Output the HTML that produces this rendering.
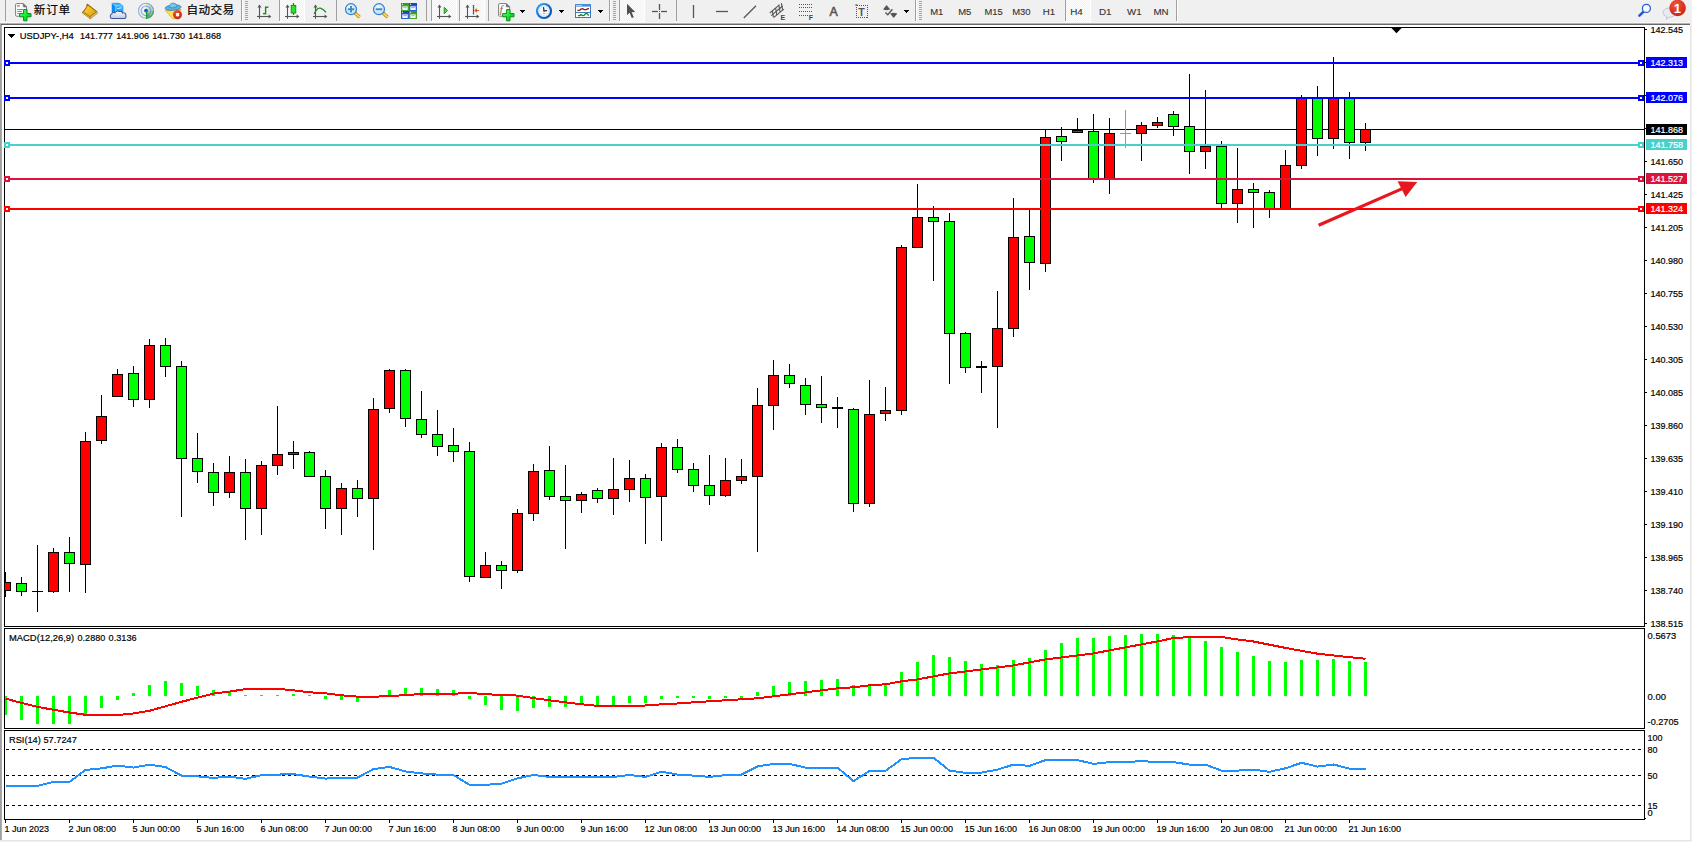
<!DOCTYPE html>
<html lang="zh"><head><meta charset="utf-8"><title>USDJPY-,H4</title>
<style>html,body{margin:0;padding:0;background:#fff;overflow:hidden}svg{display:block}text{font-family:"Liberation Sans","Noto Sans CJK SC",sans-serif;}.t{font-size:9.9px;fill:#000;stroke:#000;stroke-width:0.2px}.w{font-size:9.9px;fill:#fff;stroke:#fff;stroke-width:0.2px}.cj{font-size:11.6px;fill:#000;stroke:#000;stroke-width:0.2px}.tf{font-size:9.7px;fill:#333;stroke:#333;stroke-width:0.12px}</style></head><body>
<svg width="1692" height="842" viewBox="0 0 1692 842">
<g shape-rendering="crispEdges">
<rect x="0" y="0" width="1692" height="842" fill="#ffffff"/>
<rect x="0" y="0" width="1692" height="22" fill="#f0f0f0"/>
<rect x="0" y="22" width="1692" height="1" fill="#f7f7f7"/>
<rect x="0" y="23" width="1690" height="1" fill="#b4b4b4"/>
<rect x="0" y="24" width="1690" height="1" fill="#696969"/>
<rect x="1690" y="22" width="2" height="820" fill="#f0f0f0"/>
<rect x="1690" y="25" width="1" height="816" fill="#e3e3e3"/>
<rect x="0" y="840" width="1691" height="1" fill="#e3e3e3"/>
<rect x="0" y="841" width="1692" height="1" fill="#f0f0f0"/>
<rect x="0" y="24" width="1" height="816" fill="#a0a0a0"/>
<rect x="1" y="25" width="1" height="815" fill="#ababab"/>
<rect x="4" y="27" width="1641" height="1" fill="#000"/>
<rect x="4" y="27" width="1" height="793" fill="#000"/>
<rect x="1644" y="27" width="1" height="793" fill="#000"/>
<rect x="4" y="626" width="1641" height="1" fill="#000"/>
<rect x="4" y="628" width="1641" height="1" fill="#000"/>
<rect x="4" y="627" width="1" height="1" fill="#fff"/>
<rect x="1644" y="627" width="1" height="1" fill="#fff"/>
<rect x="4" y="728" width="1641" height="1" fill="#000"/>
<rect x="4" y="729" width="1" height="1" fill="#fff"/>
<rect x="1644" y="729" width="1" height="1" fill="#fff"/>
<rect x="4" y="730" width="1641" height="1" fill="#000"/>
<rect x="4" y="819" width="1641" height="1" fill="#000"/>
<rect x="1645" y="818" width="1" height="1" fill="#000"/>
</g>
<defs><clipPath id="cm"><rect x="5" y="28" width="1639" height="598"/></clipPath><clipPath id="ci"><rect x="5" y="629" width="1639" height="99"/></clipPath><clipPath id="cr"><rect x="5" y="731" width="1639" height="88"/></clipPath></defs>
<g shape-rendering="crispEdges" clip-path="url(#cm)">
<rect x="5" y="129" width="1639" height="1" fill="#000"/>
<rect x="5" y="572" width="1" height="25" fill="#000"/>
<rect x="0" y="582" width="11" height="9" fill="#000"/>
<rect x="1" y="583" width="9" height="7" fill="#ff0000"/>
<rect x="21" y="577" width="1" height="19" fill="#000"/>
<rect x="16" y="583" width="11" height="9" fill="#000"/>
<rect x="17" y="584" width="9" height="7" fill="#00ff00"/>
<rect x="37" y="545" width="1" height="67" fill="#000"/>
<rect x="32" y="591" width="11" height="1" fill="#000"/>
<rect x="53" y="548" width="1" height="45" fill="#000"/>
<rect x="48" y="552" width="11" height="40" fill="#000"/>
<rect x="49" y="553" width="9" height="38" fill="#ff0000"/>
<rect x="69" y="537" width="1" height="55" fill="#000"/>
<rect x="64" y="552" width="11" height="12" fill="#000"/>
<rect x="65" y="553" width="9" height="10" fill="#00ff00"/>
<rect x="85" y="432" width="1" height="161" fill="#000"/>
<rect x="80" y="441" width="11" height="124" fill="#000"/>
<rect x="81" y="442" width="9" height="122" fill="#ff0000"/>
<rect x="101" y="395" width="1" height="49" fill="#000"/>
<rect x="96" y="416" width="11" height="25" fill="#000"/>
<rect x="97" y="417" width="9" height="23" fill="#ff0000"/>
<rect x="117" y="369" width="1" height="28" fill="#000"/>
<rect x="112" y="374" width="11" height="23" fill="#000"/>
<rect x="113" y="375" width="9" height="21" fill="#ff0000"/>
<rect x="133" y="366" width="1" height="41" fill="#000"/>
<rect x="128" y="373" width="11" height="27" fill="#000"/>
<rect x="129" y="374" width="9" height="25" fill="#00ff00"/>
<rect x="149" y="339" width="1" height="69" fill="#000"/>
<rect x="144" y="345" width="11" height="55" fill="#000"/>
<rect x="145" y="346" width="9" height="53" fill="#ff0000"/>
<rect x="165" y="338" width="1" height="39" fill="#000"/>
<rect x="160" y="345" width="11" height="22" fill="#000"/>
<rect x="161" y="346" width="9" height="20" fill="#00ff00"/>
<rect x="181" y="361" width="1" height="156" fill="#000"/>
<rect x="176" y="366" width="11" height="93" fill="#000"/>
<rect x="177" y="367" width="9" height="91" fill="#00ff00"/>
<rect x="197" y="433" width="1" height="50" fill="#000"/>
<rect x="192" y="458" width="11" height="14" fill="#000"/>
<rect x="193" y="459" width="9" height="12" fill="#00ff00"/>
<rect x="213" y="463" width="1" height="43" fill="#000"/>
<rect x="208" y="472" width="11" height="21" fill="#000"/>
<rect x="209" y="473" width="9" height="19" fill="#00ff00"/>
<rect x="229" y="456" width="1" height="42" fill="#000"/>
<rect x="224" y="472" width="11" height="21" fill="#000"/>
<rect x="225" y="473" width="9" height="19" fill="#ff0000"/>
<rect x="245" y="459" width="1" height="81" fill="#000"/>
<rect x="240" y="472" width="11" height="37" fill="#000"/>
<rect x="241" y="473" width="9" height="35" fill="#00ff00"/>
<rect x="261" y="461" width="1" height="74" fill="#000"/>
<rect x="256" y="465" width="11" height="44" fill="#000"/>
<rect x="257" y="466" width="9" height="42" fill="#ff0000"/>
<rect x="277" y="406" width="1" height="69" fill="#000"/>
<rect x="272" y="454" width="11" height="12" fill="#000"/>
<rect x="273" y="455" width="9" height="10" fill="#ff0000"/>
<rect x="293" y="441" width="1" height="28" fill="#000"/>
<rect x="288" y="452" width="11" height="3" fill="#000"/>
<rect x="289" y="453" width="9" height="1" fill="#ff0000"/>
<rect x="309" y="451" width="1" height="26" fill="#000"/>
<rect x="304" y="452" width="11" height="25" fill="#000"/>
<rect x="305" y="453" width="9" height="23" fill="#00ff00"/>
<rect x="325" y="470" width="1" height="59" fill="#000"/>
<rect x="320" y="476" width="11" height="33" fill="#000"/>
<rect x="321" y="477" width="9" height="31" fill="#00ff00"/>
<rect x="341" y="483" width="1" height="52" fill="#000"/>
<rect x="336" y="488" width="11" height="21" fill="#000"/>
<rect x="337" y="489" width="9" height="19" fill="#ff0000"/>
<rect x="357" y="480" width="1" height="37" fill="#000"/>
<rect x="352" y="488" width="11" height="11" fill="#000"/>
<rect x="353" y="489" width="9" height="9" fill="#00ff00"/>
<rect x="373" y="398" width="1" height="152" fill="#000"/>
<rect x="368" y="409" width="11" height="90" fill="#000"/>
<rect x="369" y="410" width="9" height="88" fill="#ff0000"/>
<rect x="389" y="369" width="1" height="44" fill="#000"/>
<rect x="384" y="370" width="11" height="39" fill="#000"/>
<rect x="385" y="371" width="9" height="37" fill="#ff0000"/>
<rect x="405" y="369" width="1" height="58" fill="#000"/>
<rect x="400" y="370" width="11" height="49" fill="#000"/>
<rect x="401" y="371" width="9" height="47" fill="#00ff00"/>
<rect x="421" y="391" width="1" height="47" fill="#000"/>
<rect x="416" y="419" width="11" height="16" fill="#000"/>
<rect x="417" y="420" width="9" height="14" fill="#00ff00"/>
<rect x="437" y="410" width="1" height="46" fill="#000"/>
<rect x="432" y="434" width="11" height="13" fill="#000"/>
<rect x="433" y="435" width="9" height="11" fill="#00ff00"/>
<rect x="453" y="428" width="1" height="34" fill="#000"/>
<rect x="448" y="445" width="11" height="7" fill="#000"/>
<rect x="449" y="446" width="9" height="5" fill="#00ff00"/>
<rect x="469" y="442" width="1" height="140" fill="#000"/>
<rect x="464" y="451" width="11" height="126" fill="#000"/>
<rect x="465" y="452" width="9" height="124" fill="#00ff00"/>
<rect x="485" y="552" width="1" height="26" fill="#000"/>
<rect x="480" y="565" width="11" height="13" fill="#000"/>
<rect x="481" y="566" width="9" height="11" fill="#ff0000"/>
<rect x="501" y="561" width="1" height="28" fill="#000"/>
<rect x="496" y="565" width="11" height="6" fill="#000"/>
<rect x="497" y="566" width="9" height="4" fill="#00ff00"/>
<rect x="517" y="509" width="1" height="64" fill="#000"/>
<rect x="512" y="513" width="11" height="58" fill="#000"/>
<rect x="513" y="514" width="9" height="56" fill="#ff0000"/>
<rect x="533" y="464" width="1" height="57" fill="#000"/>
<rect x="528" y="471" width="11" height="43" fill="#000"/>
<rect x="529" y="472" width="9" height="41" fill="#ff0000"/>
<rect x="549" y="446" width="1" height="54" fill="#000"/>
<rect x="544" y="470" width="11" height="27" fill="#000"/>
<rect x="545" y="471" width="9" height="25" fill="#00ff00"/>
<rect x="565" y="465" width="1" height="84" fill="#000"/>
<rect x="560" y="496" width="11" height="5" fill="#000"/>
<rect x="561" y="497" width="9" height="3" fill="#00ff00"/>
<rect x="581" y="492" width="1" height="21" fill="#000"/>
<rect x="576" y="494" width="11" height="7" fill="#000"/>
<rect x="577" y="495" width="9" height="5" fill="#ff0000"/>
<rect x="597" y="488" width="1" height="15" fill="#000"/>
<rect x="592" y="490" width="11" height="9" fill="#000"/>
<rect x="593" y="491" width="9" height="7" fill="#00ff00"/>
<rect x="613" y="458" width="1" height="57" fill="#000"/>
<rect x="608" y="489" width="11" height="10" fill="#000"/>
<rect x="609" y="490" width="9" height="8" fill="#ff0000"/>
<rect x="629" y="460" width="1" height="42" fill="#000"/>
<rect x="624" y="478" width="11" height="12" fill="#000"/>
<rect x="625" y="479" width="9" height="10" fill="#ff0000"/>
<rect x="645" y="474" width="1" height="70" fill="#000"/>
<rect x="640" y="478" width="11" height="20" fill="#000"/>
<rect x="641" y="479" width="9" height="18" fill="#00ff00"/>
<rect x="661" y="443" width="1" height="98" fill="#000"/>
<rect x="656" y="447" width="11" height="50" fill="#000"/>
<rect x="657" y="448" width="9" height="48" fill="#ff0000"/>
<rect x="677" y="439" width="1" height="34" fill="#000"/>
<rect x="672" y="447" width="11" height="23" fill="#000"/>
<rect x="673" y="448" width="9" height="21" fill="#00ff00"/>
<rect x="693" y="463" width="1" height="29" fill="#000"/>
<rect x="688" y="469" width="11" height="17" fill="#000"/>
<rect x="689" y="470" width="9" height="15" fill="#00ff00"/>
<rect x="709" y="455" width="1" height="50" fill="#000"/>
<rect x="704" y="485" width="11" height="11" fill="#000"/>
<rect x="705" y="486" width="9" height="9" fill="#00ff00"/>
<rect x="725" y="458" width="1" height="39" fill="#000"/>
<rect x="720" y="480" width="11" height="16" fill="#000"/>
<rect x="721" y="481" width="9" height="14" fill="#ff0000"/>
<rect x="741" y="459" width="1" height="25" fill="#000"/>
<rect x="736" y="476" width="11" height="5" fill="#000"/>
<rect x="737" y="477" width="9" height="3" fill="#ff0000"/>
<rect x="757" y="388" width="1" height="164" fill="#000"/>
<rect x="752" y="405" width="11" height="72" fill="#000"/>
<rect x="753" y="406" width="9" height="70" fill="#ff0000"/>
<rect x="773" y="360" width="1" height="70" fill="#000"/>
<rect x="768" y="375" width="11" height="31" fill="#000"/>
<rect x="769" y="376" width="9" height="29" fill="#ff0000"/>
<rect x="789" y="364" width="1" height="24" fill="#000"/>
<rect x="784" y="375" width="11" height="9" fill="#000"/>
<rect x="785" y="376" width="9" height="7" fill="#00ff00"/>
<rect x="805" y="378" width="1" height="37" fill="#000"/>
<rect x="800" y="385" width="11" height="20" fill="#000"/>
<rect x="801" y="386" width="9" height="18" fill="#00ff00"/>
<rect x="821" y="376" width="1" height="47" fill="#000"/>
<rect x="816" y="404" width="11" height="4" fill="#000"/>
<rect x="817" y="405" width="9" height="2" fill="#00ff00"/>
<rect x="837" y="397" width="1" height="31" fill="#000"/>
<rect x="832" y="407" width="11" height="2" fill="#000"/>
<rect x="853" y="408" width="1" height="104" fill="#000"/>
<rect x="848" y="409" width="11" height="95" fill="#000"/>
<rect x="849" y="410" width="9" height="93" fill="#00ff00"/>
<rect x="869" y="380" width="1" height="127" fill="#000"/>
<rect x="864" y="414" width="11" height="90" fill="#000"/>
<rect x="865" y="415" width="9" height="88" fill="#ff0000"/>
<rect x="885" y="387" width="1" height="34" fill="#000"/>
<rect x="880" y="410" width="11" height="4" fill="#000"/>
<rect x="881" y="411" width="9" height="2" fill="#ff0000"/>
<rect x="901" y="245" width="1" height="170" fill="#000"/>
<rect x="896" y="247" width="11" height="164" fill="#000"/>
<rect x="897" y="248" width="9" height="162" fill="#ff0000"/>
<rect x="917" y="184" width="1" height="64" fill="#000"/>
<rect x="912" y="217" width="11" height="31" fill="#000"/>
<rect x="913" y="218" width="9" height="29" fill="#ff0000"/>
<rect x="933" y="206" width="1" height="75" fill="#000"/>
<rect x="928" y="217" width="11" height="5" fill="#000"/>
<rect x="929" y="218" width="9" height="3" fill="#00ff00"/>
<rect x="949" y="213" width="1" height="171" fill="#000"/>
<rect x="944" y="221" width="11" height="113" fill="#000"/>
<rect x="945" y="222" width="9" height="111" fill="#00ff00"/>
<rect x="965" y="332" width="1" height="41" fill="#000"/>
<rect x="960" y="333" width="11" height="35" fill="#000"/>
<rect x="961" y="334" width="9" height="33" fill="#00ff00"/>
<rect x="981" y="361" width="1" height="32" fill="#000"/>
<rect x="976" y="366" width="11" height="2" fill="#000"/>
<rect x="997" y="291" width="1" height="137" fill="#000"/>
<rect x="992" y="328" width="11" height="39" fill="#000"/>
<rect x="993" y="329" width="9" height="37" fill="#ff0000"/>
<rect x="1013" y="198" width="1" height="139" fill="#000"/>
<rect x="1008" y="237" width="11" height="92" fill="#000"/>
<rect x="1009" y="238" width="9" height="90" fill="#ff0000"/>
<rect x="1029" y="210" width="1" height="80" fill="#000"/>
<rect x="1024" y="236" width="11" height="27" fill="#000"/>
<rect x="1025" y="237" width="9" height="25" fill="#00ff00"/>
<rect x="1045" y="130" width="1" height="142" fill="#000"/>
<rect x="1040" y="137" width="11" height="127" fill="#000"/>
<rect x="1041" y="138" width="9" height="125" fill="#ff0000"/>
<rect x="1061" y="127" width="1" height="34" fill="#000"/>
<rect x="1056" y="136" width="11" height="6" fill="#000"/>
<rect x="1057" y="137" width="9" height="4" fill="#00ff00"/>
<rect x="1077" y="118" width="1" height="15" fill="#000"/>
<rect x="1072" y="130" width="11" height="3" fill="#000"/>
<rect x="1073" y="131" width="9" height="1" fill="#ff0000"/>
<rect x="1093" y="114" width="1" height="69" fill="#000"/>
<rect x="1088" y="131" width="11" height="48" fill="#000"/>
<rect x="1089" y="132" width="9" height="46" fill="#00ff00"/>
<rect x="1109" y="118" width="1" height="76" fill="#000"/>
<rect x="1104" y="133" width="11" height="46" fill="#000"/>
<rect x="1105" y="134" width="9" height="44" fill="#ff0000"/>
<rect x="1125" y="110" width="1" height="38" fill="#00ff00"/>
<rect x="1120" y="133" width="11" height="1" fill="#00ff00"/>
<rect x="1141" y="122" width="1" height="39" fill="#000"/>
<rect x="1136" y="125" width="11" height="9" fill="#000"/>
<rect x="1137" y="126" width="9" height="7" fill="#ff0000"/>
<rect x="1157" y="117" width="1" height="11" fill="#000"/>
<rect x="1152" y="122" width="11" height="4" fill="#000"/>
<rect x="1153" y="123" width="9" height="2" fill="#ff0000"/>
<rect x="1173" y="111" width="1" height="25" fill="#000"/>
<rect x="1168" y="114" width="11" height="13" fill="#000"/>
<rect x="1169" y="115" width="9" height="11" fill="#00ff00"/>
<rect x="1189" y="74" width="1" height="100" fill="#000"/>
<rect x="1184" y="126" width="11" height="26" fill="#000"/>
<rect x="1185" y="127" width="9" height="24" fill="#00ff00"/>
<rect x="1205" y="90" width="1" height="79" fill="#000"/>
<rect x="1200" y="146" width="11" height="6" fill="#000"/>
<rect x="1201" y="147" width="9" height="4" fill="#ff0000"/>
<rect x="1221" y="141" width="1" height="67" fill="#000"/>
<rect x="1216" y="146" width="11" height="58" fill="#000"/>
<rect x="1217" y="147" width="9" height="56" fill="#00ff00"/>
<rect x="1237" y="148" width="1" height="75" fill="#000"/>
<rect x="1232" y="189" width="11" height="15" fill="#000"/>
<rect x="1233" y="190" width="9" height="13" fill="#ff0000"/>
<rect x="1253" y="183" width="1" height="45" fill="#000"/>
<rect x="1248" y="189" width="11" height="4" fill="#000"/>
<rect x="1249" y="190" width="9" height="2" fill="#00ff00"/>
<rect x="1269" y="190" width="1" height="28" fill="#000"/>
<rect x="1264" y="192" width="11" height="17" fill="#000"/>
<rect x="1265" y="193" width="9" height="15" fill="#00ff00"/>
<rect x="1285" y="150" width="1" height="59" fill="#000"/>
<rect x="1280" y="165" width="11" height="44" fill="#000"/>
<rect x="1281" y="166" width="9" height="42" fill="#ff0000"/>
<rect x="1301" y="95" width="1" height="74" fill="#000"/>
<rect x="1296" y="98" width="11" height="68" fill="#000"/>
<rect x="1297" y="99" width="9" height="66" fill="#ff0000"/>
<rect x="1317" y="86" width="1" height="70" fill="#000"/>
<rect x="1312" y="98" width="11" height="41" fill="#000"/>
<rect x="1313" y="99" width="9" height="39" fill="#00ff00"/>
<rect x="1333" y="57" width="1" height="92" fill="#000"/>
<rect x="1328" y="98" width="11" height="41" fill="#000"/>
<rect x="1329" y="99" width="9" height="39" fill="#ff0000"/>
<rect x="1349" y="92" width="1" height="67" fill="#000"/>
<rect x="1344" y="98" width="11" height="45" fill="#000"/>
<rect x="1345" y="99" width="9" height="43" fill="#00ff00"/>
<rect x="1365" y="123" width="1" height="28" fill="#000"/>
<rect x="1360" y="129" width="11" height="14" fill="#000"/>
<rect x="1361" y="130" width="9" height="12" fill="#ff0000"/>
</g>
<g shape-rendering="crispEdges">
<rect x="5" y="62" width="1639" height="2" fill="#0000ff"/>
<rect x="4" y="60" width="6" height="6" fill="#0000ff"/>
<rect x="6" y="62" width="2" height="2" fill="#fff"/>
<rect x="1638" y="60" width="6" height="6" fill="#0000ff"/>
<rect x="1640" y="62" width="2" height="2" fill="#fff"/>
<rect x="5" y="97" width="1639" height="2" fill="#0000ff"/>
<rect x="4" y="95" width="6" height="6" fill="#0000ff"/>
<rect x="6" y="97" width="2" height="2" fill="#fff"/>
<rect x="1638" y="95" width="6" height="6" fill="#0000ff"/>
<rect x="1640" y="97" width="2" height="2" fill="#fff"/>
<rect x="5" y="144" width="1639" height="2" fill="#48d1cc"/>
<rect x="4" y="142" width="6" height="6" fill="#48d1cc"/>
<rect x="6" y="144" width="2" height="2" fill="#fff"/>
<rect x="1638" y="142" width="6" height="6" fill="#48d1cc"/>
<rect x="1640" y="144" width="2" height="2" fill="#fff"/>
<rect x="5" y="178" width="1639" height="2" fill="#dc143c"/>
<rect x="4" y="176" width="6" height="6" fill="#dc143c"/>
<rect x="6" y="178" width="2" height="2" fill="#fff"/>
<rect x="1638" y="176" width="6" height="6" fill="#dc143c"/>
<rect x="1640" y="178" width="2" height="2" fill="#fff"/>
<rect x="5" y="208" width="1639" height="2" fill="#ff0000"/>
<rect x="4" y="206" width="6" height="6" fill="#ff0000"/>
<rect x="6" y="208" width="2" height="2" fill="#fff"/>
<rect x="1638" y="206" width="6" height="6" fill="#ff0000"/>
<rect x="1640" y="208" width="2" height="2" fill="#fff"/>
</g>
<g><line x1="1318.6" y1="225.3" x2="1404" y2="187.9" stroke="#e8161e" stroke-width="3.2"/><polygon points="1417.2,182.1 1397.6,181.2 1405.6,197" fill="#e8161e"/></g>
<polygon points="1391.4,28 1401.6,28 1396.5,33.3" fill="#000"/>
<polygon points="8,34 15,34 11.5,38" fill="#000" shape-rendering="crispEdges"/>
<g shape-rendering="crispEdges">
<rect x="1645" y="29" width="2" height="1" fill="#000"/>
<rect x="1645" y="62" width="2" height="1" fill="#000"/>
<rect x="1645" y="95" width="2" height="1" fill="#000"/>
<rect x="1645" y="128" width="2" height="1" fill="#000"/>
<rect x="1645" y="161" width="2" height="1" fill="#000"/>
<rect x="1645" y="194" width="2" height="1" fill="#000"/>
<rect x="1645" y="227" width="2" height="1" fill="#000"/>
<rect x="1645" y="260" width="2" height="1" fill="#000"/>
<rect x="1645" y="293" width="2" height="1" fill="#000"/>
<rect x="1645" y="326" width="2" height="1" fill="#000"/>
<rect x="1645" y="359" width="2" height="1" fill="#000"/>
<rect x="1645" y="392" width="2" height="1" fill="#000"/>
<rect x="1645" y="425" width="2" height="1" fill="#000"/>
<rect x="1645" y="458" width="2" height="1" fill="#000"/>
<rect x="1645" y="491" width="2" height="1" fill="#000"/>
<rect x="1645" y="524" width="2" height="1" fill="#000"/>
<rect x="1645" y="557" width="2" height="1" fill="#000"/>
<rect x="1645" y="590" width="2" height="1" fill="#000"/>
<rect x="1645" y="623" width="2" height="1" fill="#000"/>
</g>
<text class="t" x="1650.4" y="32.8" textLength="32.6" lengthAdjust="spacingAndGlyphs">142.545</text>
<text class="t" x="1650.4" y="164.8" textLength="32.6" lengthAdjust="spacingAndGlyphs">141.650</text>
<text class="t" x="1650.4" y="197.8" textLength="32.6" lengthAdjust="spacingAndGlyphs">141.425</text>
<text class="t" x="1650.4" y="230.8" textLength="32.6" lengthAdjust="spacingAndGlyphs">141.205</text>
<text class="t" x="1650.4" y="263.8" textLength="32.6" lengthAdjust="spacingAndGlyphs">140.980</text>
<text class="t" x="1650.4" y="296.8" textLength="32.6" lengthAdjust="spacingAndGlyphs">140.755</text>
<text class="t" x="1650.4" y="329.8" textLength="32.6" lengthAdjust="spacingAndGlyphs">140.530</text>
<text class="t" x="1650.4" y="362.8" textLength="32.6" lengthAdjust="spacingAndGlyphs">140.305</text>
<text class="t" x="1650.4" y="395.8" textLength="32.6" lengthAdjust="spacingAndGlyphs">140.085</text>
<text class="t" x="1650.4" y="428.8" textLength="32.6" lengthAdjust="spacingAndGlyphs">139.860</text>
<text class="t" x="1650.4" y="461.8" textLength="32.6" lengthAdjust="spacingAndGlyphs">139.635</text>
<text class="t" x="1650.4" y="494.8" textLength="32.6" lengthAdjust="spacingAndGlyphs">139.410</text>
<text class="t" x="1650.4" y="527.8" textLength="32.6" lengthAdjust="spacingAndGlyphs">139.190</text>
<text class="t" x="1650.4" y="560.8" textLength="32.6" lengthAdjust="spacingAndGlyphs">138.965</text>
<text class="t" x="1650.4" y="593.8" textLength="32.6" lengthAdjust="spacingAndGlyphs">138.740</text>
<text class="t" x="1650.4" y="626.8" textLength="32.6" lengthAdjust="spacingAndGlyphs">138.515</text>
<rect x="1646" y="57" width="41" height="11" fill="#0000ff" shape-rendering="crispEdges"/>
<text class="w" x="1650.4" y="66" textLength="32.6" lengthAdjust="spacingAndGlyphs">142.313</text>
<rect x="1646" y="92" width="41" height="11" fill="#0000ff" shape-rendering="crispEdges"/>
<text class="w" x="1650.4" y="101" textLength="32.6" lengthAdjust="spacingAndGlyphs">142.076</text>
<rect x="1646" y="124" width="41" height="11" fill="#000000" shape-rendering="crispEdges"/>
<text class="w" x="1650.4" y="133" textLength="32.6" lengthAdjust="spacingAndGlyphs">141.868</text>
<rect x="1646" y="139" width="41" height="11" fill="#48d1cc" shape-rendering="crispEdges"/>
<text class="w" x="1650.4" y="148" textLength="32.6" lengthAdjust="spacingAndGlyphs">141.758</text>
<rect x="1646" y="173" width="41" height="11" fill="#dc143c" shape-rendering="crispEdges"/>
<text class="w" x="1650.4" y="182" textLength="32.6" lengthAdjust="spacingAndGlyphs">141.527</text>
<rect x="1646" y="203" width="41" height="11" fill="#ff0000" shape-rendering="crispEdges"/>
<text class="w" x="1650.4" y="212" textLength="32.6" lengthAdjust="spacingAndGlyphs">141.324</text>
<text class="t" x="1647.6" y="638.6" textLength="28.6" lengthAdjust="spacingAndGlyphs">0.5673</text>
<text class="t" x="1647.6" y="700" textLength="18.4" lengthAdjust="spacingAndGlyphs">0.00</text>
<text class="t" x="1647.6" y="725" textLength="31" lengthAdjust="spacingAndGlyphs">-0.2705</text>
<text class="t" x="1647.6" y="741" textLength="15" lengthAdjust="spacingAndGlyphs">100</text>
<text class="t" x="1647.6" y="752.6" textLength="10" lengthAdjust="spacingAndGlyphs">80</text>
<text class="t" x="1647.6" y="778.6" textLength="10" lengthAdjust="spacingAndGlyphs">50</text>
<text class="t" x="1647.6" y="808.8" textLength="10" lengthAdjust="spacingAndGlyphs">15</text>
<text class="t" x="1647.6" y="815.8" textLength="5.2" lengthAdjust="spacingAndGlyphs">0</text>
<text class="t" y="39"><tspan x="19.8" textLength="54" lengthAdjust="spacingAndGlyphs">USDJPY-,H4</tspan><tspan x="80" textLength="32.8" lengthAdjust="spacingAndGlyphs">141.777</tspan><tspan x="116.2" textLength="32.8" lengthAdjust="spacingAndGlyphs">141.906</tspan><tspan x="152.2" textLength="32.8" lengthAdjust="spacingAndGlyphs">141.730</tspan><tspan x="188.2" textLength="32.8" lengthAdjust="spacingAndGlyphs">141.868</tspan></text>
<text class="t" y="641"><tspan x="9" textLength="65.2" lengthAdjust="spacingAndGlyphs">MACD(12,26,9)</tspan><tspan x="77.6" textLength="27.6" lengthAdjust="spacingAndGlyphs">0.2880</tspan><tspan x="108.6" textLength="28" lengthAdjust="spacingAndGlyphs">0.3136</tspan></text>
<text class="t" x="9" y="743" textLength="67.8" lengthAdjust="spacingAndGlyphs">RSI(14) 57.7247</text>
<g clip-path="url(#ci)">
<g shape-rendering="crispEdges">
<rect x="4" y="696" width="3" height="19" fill="#00ff00"/>
<rect x="20" y="696" width="3" height="24" fill="#00ff00"/>
<rect x="36" y="696" width="3" height="28" fill="#00ff00"/>
<rect x="52" y="696" width="3" height="28" fill="#00ff00"/>
<rect x="68" y="696" width="3" height="28" fill="#00ff00"/>
<rect x="84" y="696" width="3" height="20" fill="#00ff00"/>
<rect x="100" y="696" width="3" height="12" fill="#00ff00"/>
<rect x="116" y="696" width="3" height="4" fill="#00ff00"/>
<rect x="132" y="693" width="3" height="3" fill="#00ff00"/>
<rect x="148" y="685" width="3" height="11" fill="#00ff00"/>
<rect x="164" y="681" width="3" height="15" fill="#00ff00"/>
<rect x="180" y="683" width="3" height="13" fill="#00ff00"/>
<rect x="196" y="686" width="3" height="10" fill="#00ff00"/>
<rect x="212" y="690" width="3" height="6" fill="#00ff00"/>
<rect x="228" y="692" width="3" height="4" fill="#00ff00"/>
<rect x="244" y="695" width="3" height="1" fill="#00ff00"/>
<rect x="260" y="695" width="3" height="1" fill="#00ff00"/>
<rect x="276" y="695" width="3" height="1" fill="#00ff00"/>
<rect x="292" y="694" width="3" height="2" fill="#00ff00"/>
<rect x="308" y="695" width="3" height="1" fill="#00ff00"/>
<rect x="324" y="696" width="3" height="3" fill="#00ff00"/>
<rect x="340" y="696" width="3" height="4" fill="#00ff00"/>
<rect x="356" y="696" width="3" height="6" fill="#00ff00"/>
<rect x="388" y="690" width="3" height="6" fill="#00ff00"/>
<rect x="404" y="688" width="3" height="8" fill="#00ff00"/>
<rect x="420" y="688" width="3" height="8" fill="#00ff00"/>
<rect x="436" y="689" width="3" height="7" fill="#00ff00"/>
<rect x="452" y="690" width="3" height="6" fill="#00ff00"/>
<rect x="468" y="696" width="3" height="3" fill="#00ff00"/>
<rect x="484" y="696" width="3" height="9" fill="#00ff00"/>
<rect x="500" y="696" width="3" height="14" fill="#00ff00"/>
<rect x="516" y="696" width="3" height="15" fill="#00ff00"/>
<rect x="532" y="696" width="3" height="12" fill="#00ff00"/>
<rect x="548" y="696" width="3" height="11" fill="#00ff00"/>
<rect x="564" y="696" width="3" height="11" fill="#00ff00"/>
<rect x="580" y="696" width="3" height="9" fill="#00ff00"/>
<rect x="596" y="696" width="3" height="9" fill="#00ff00"/>
<rect x="612" y="696" width="3" height="9" fill="#00ff00"/>
<rect x="628" y="696" width="3" height="7" fill="#00ff00"/>
<rect x="644" y="696" width="3" height="7" fill="#00ff00"/>
<rect x="660" y="696" width="3" height="3" fill="#00ff00"/>
<rect x="676" y="696" width="3" height="2" fill="#00ff00"/>
<rect x="692" y="696" width="3" height="2" fill="#00ff00"/>
<rect x="708" y="696" width="3" height="3" fill="#00ff00"/>
<rect x="724" y="696" width="3" height="2" fill="#00ff00"/>
<rect x="740" y="696" width="3" height="2" fill="#00ff00"/>
<rect x="756" y="692" width="3" height="4" fill="#00ff00"/>
<rect x="772" y="686" width="3" height="10" fill="#00ff00"/>
<rect x="788" y="682" width="3" height="14" fill="#00ff00"/>
<rect x="804" y="681" width="3" height="15" fill="#00ff00"/>
<rect x="820" y="680" width="3" height="16" fill="#00ff00"/>
<rect x="836" y="679" width="3" height="17" fill="#00ff00"/>
<rect x="852" y="685" width="3" height="11" fill="#00ff00"/>
<rect x="868" y="684" width="3" height="12" fill="#00ff00"/>
<rect x="884" y="683" width="3" height="13" fill="#00ff00"/>
<rect x="900" y="672" width="3" height="24" fill="#00ff00"/>
<rect x="916" y="662" width="3" height="34" fill="#00ff00"/>
<rect x="932" y="655" width="3" height="41" fill="#00ff00"/>
<rect x="948" y="657" width="3" height="39" fill="#00ff00"/>
<rect x="964" y="661" width="3" height="35" fill="#00ff00"/>
<rect x="980" y="664" width="3" height="32" fill="#00ff00"/>
<rect x="996" y="665" width="3" height="31" fill="#00ff00"/>
<rect x="1012" y="660" width="3" height="36" fill="#00ff00"/>
<rect x="1028" y="658" width="3" height="38" fill="#00ff00"/>
<rect x="1044" y="650" width="3" height="46" fill="#00ff00"/>
<rect x="1060" y="643" width="3" height="53" fill="#00ff00"/>
<rect x="1076" y="638" width="3" height="58" fill="#00ff00"/>
<rect x="1092" y="638" width="3" height="58" fill="#00ff00"/>
<rect x="1108" y="636" width="3" height="60" fill="#00ff00"/>
<rect x="1124" y="635" width="3" height="61" fill="#00ff00"/>
<rect x="1140" y="634" width="3" height="62" fill="#00ff00"/>
<rect x="1156" y="634" width="3" height="62" fill="#00ff00"/>
<rect x="1172" y="635" width="3" height="61" fill="#00ff00"/>
<rect x="1188" y="637" width="3" height="59" fill="#00ff00"/>
<rect x="1204" y="641" width="3" height="55" fill="#00ff00"/>
<rect x="1220" y="647" width="3" height="49" fill="#00ff00"/>
<rect x="1236" y="652" width="3" height="44" fill="#00ff00"/>
<rect x="1252" y="656" width="3" height="40" fill="#00ff00"/>
<rect x="1268" y="661" width="3" height="35" fill="#00ff00"/>
<rect x="1284" y="662" width="3" height="34" fill="#00ff00"/>
<rect x="1300" y="660" width="3" height="36" fill="#00ff00"/>
<rect x="1316" y="660" width="3" height="36" fill="#00ff00"/>
<rect x="1332" y="659" width="3" height="37" fill="#00ff00"/>
<rect x="1348" y="661" width="3" height="35" fill="#00ff00"/>
<rect x="1364" y="662" width="3" height="34" fill="#00ff00"/>
</g>
<polyline points="5.5,698.6 21.5,703 37.5,706.8 53.5,709.8 69.5,712.5 85.5,714.8 101.5,715 117.5,715 133.5,713.5 149.5,710.8 165.5,706.3 181.5,701.8 197.5,697.6 213.5,693.6 229.5,691.6 245.5,689.1 261.5,688.6 277.5,688.8 293.5,690.3 309.5,692.3 325.5,693.3 341.5,695.3 357.5,696.6 373.5,696.6 389.5,696.3 405.5,695 421.5,694.1 437.5,693.8 453.5,693.8 469.5,692.8 485.5,694.3 501.5,694.8 517.5,695.6 533.5,698.1 549.5,700.3 565.5,702.3 581.5,704.3 597.5,705.8 613.5,705.8 629.5,705.8 645.5,705.5 661.5,704.3 677.5,703.5 693.5,702.3 709.5,701.3 725.5,700.3 741.5,699.3 757.5,698.3 773.5,696.3 789.5,694.3 805.5,692.4 821.5,690.3 837.5,688.3 853.5,687.3 869.5,685.3 885.5,684.3 901.5,681.3 917.5,679.4 933.5,676.4 949.5,673.4 965.5,671.4 981.5,669.4 997.5,667.4 1013.5,665.4 1029.5,662.4 1045.5,659.4 1061.5,657.4 1077.5,655.4 1093.5,653.4 1109.5,650.4 1125.5,647.4 1141.5,644.4 1157.5,641.4 1173.5,638 1189.5,637.2 1205.5,637 1221.5,636.9 1237.5,639.5 1253.5,641.5 1269.5,644.7 1285.5,647.9 1301.5,650.8 1317.5,653.7 1333.5,655.5 1349.5,657.2 1365.5,658.7" fill="none" stroke="#ff0000" stroke-width="2" stroke-linejoin="round" shape-rendering="crispEdges"/>
</g>
<g clip-path="url(#cr)">
<g shape-rendering="crispEdges">
<line x1="6" y1="749.5" x2="1644" y2="749.5" stroke="#000" stroke-width="1" stroke-dasharray="3 3"/>
<line x1="6" y1="775.5" x2="1644" y2="775.5" stroke="#000" stroke-width="1" stroke-dasharray="3 3"/>
<line x1="6" y1="805.5" x2="1644" y2="805.5" stroke="#000" stroke-width="1" stroke-dasharray="3 3"/>
</g>
<polyline points="5.5,785.8 21.5,785.8 37.5,785.8 53.5,781.8 69.5,781.8 85.5,769.9 101.5,768.4 117.5,765.6 133.5,767.6 149.5,764.6 165.5,767.1 181.5,775.6 197.5,776.4 213.5,777.9 229.5,776.6 245.5,778.9 261.5,775.1 277.5,774.6 293.5,774.1 309.5,776.6 325.5,778.6 341.5,777.6 357.5,777.6 373.5,769.1 389.5,766.9 405.5,771.4 421.5,773.4 437.5,774.6 453.5,775.1 469.5,784.8 485.5,784.8 501.5,783.8 517.5,778.4 533.5,774.9 549.5,776.9 565.5,776.9 581.5,776.9 597.5,776.9 613.5,776.9 629.5,774.9 645.5,776.9 661.5,771.6 677.5,774.6 693.5,775.6 709.5,776.9 725.5,775.1 741.5,774.6 757.5,766.4 773.5,763.9 789.5,763.9 805.5,767.6 821.5,767.6 837.5,767.6 853.5,781.1 869.5,770.9 885.5,770.9 901.5,759.2 917.5,757.7 933.5,757.7 949.5,770.6 965.5,772.9 981.5,772.6 997.5,769.6 1013.5,764.6 1029.5,765.9 1045.5,760.1 1061.5,760.1 1077.5,760.1 1093.5,763.9 1109.5,762.1 1125.5,762.1 1141.5,761.1 1157.5,762.1 1173.5,762.1 1189.5,764.6 1205.5,764.6 1221.5,770.6 1237.5,770.6 1253.5,769.7 1269.5,771.8 1285.5,768.3 1301.5,762.8 1317.5,766.6 1333.5,764.5 1349.5,768.6 1365.5,768.6" fill="none" stroke="#1e90ff" stroke-width="2" stroke-linejoin="round" shape-rendering="crispEdges"/>
</g>
<g shape-rendering="crispEdges">
<rect x="5" y="820" width="1" height="3" fill="#000"/>
<rect x="69" y="820" width="1" height="3" fill="#000"/>
<rect x="133" y="820" width="1" height="3" fill="#000"/>
<rect x="197" y="820" width="1" height="3" fill="#000"/>
<rect x="261" y="820" width="1" height="3" fill="#000"/>
<rect x="325" y="820" width="1" height="3" fill="#000"/>
<rect x="389" y="820" width="1" height="3" fill="#000"/>
<rect x="453" y="820" width="1" height="3" fill="#000"/>
<rect x="517" y="820" width="1" height="3" fill="#000"/>
<rect x="581" y="820" width="1" height="3" fill="#000"/>
<rect x="645" y="820" width="1" height="3" fill="#000"/>
<rect x="709" y="820" width="1" height="3" fill="#000"/>
<rect x="773" y="820" width="1" height="3" fill="#000"/>
<rect x="837" y="820" width="1" height="3" fill="#000"/>
<rect x="901" y="820" width="1" height="3" fill="#000"/>
<rect x="965" y="820" width="1" height="3" fill="#000"/>
<rect x="1029" y="820" width="1" height="3" fill="#000"/>
<rect x="1093" y="820" width="1" height="3" fill="#000"/>
<rect x="1157" y="820" width="1" height="3" fill="#000"/>
<rect x="1221" y="820" width="1" height="3" fill="#000"/>
<rect x="1285" y="820" width="1" height="3" fill="#000"/>
<rect x="1349" y="820" width="1" height="3" fill="#000"/>
</g>
<text class="t" x="4.5" y="831.6" textLength="44.5" lengthAdjust="spacingAndGlyphs">1 Jun 2023</text>
<text class="t" x="68.5" y="831.6" textLength="47.5" lengthAdjust="spacingAndGlyphs">2 Jun 08:00</text>
<text class="t" x="132.5" y="831.6" textLength="47.5" lengthAdjust="spacingAndGlyphs">5 Jun 00:00</text>
<text class="t" x="196.5" y="831.6" textLength="47.5" lengthAdjust="spacingAndGlyphs">5 Jun 16:00</text>
<text class="t" x="260.5" y="831.6" textLength="47.5" lengthAdjust="spacingAndGlyphs">6 Jun 08:00</text>
<text class="t" x="324.5" y="831.6" textLength="47.5" lengthAdjust="spacingAndGlyphs">7 Jun 00:00</text>
<text class="t" x="388.5" y="831.6" textLength="47.5" lengthAdjust="spacingAndGlyphs">7 Jun 16:00</text>
<text class="t" x="452.5" y="831.6" textLength="47.5" lengthAdjust="spacingAndGlyphs">8 Jun 08:00</text>
<text class="t" x="516.5" y="831.6" textLength="47.5" lengthAdjust="spacingAndGlyphs">9 Jun 00:00</text>
<text class="t" x="580.5" y="831.6" textLength="47.5" lengthAdjust="spacingAndGlyphs">9 Jun 16:00</text>
<text class="t" x="644.5" y="831.6" textLength="52.6" lengthAdjust="spacingAndGlyphs">12 Jun 08:00</text>
<text class="t" x="708.5" y="831.6" textLength="52.6" lengthAdjust="spacingAndGlyphs">13 Jun 00:00</text>
<text class="t" x="772.5" y="831.6" textLength="52.6" lengthAdjust="spacingAndGlyphs">13 Jun 16:00</text>
<text class="t" x="836.5" y="831.6" textLength="52.6" lengthAdjust="spacingAndGlyphs">14 Jun 08:00</text>
<text class="t" x="900.5" y="831.6" textLength="52.6" lengthAdjust="spacingAndGlyphs">15 Jun 00:00</text>
<text class="t" x="964.5" y="831.6" textLength="52.6" lengthAdjust="spacingAndGlyphs">15 Jun 16:00</text>
<text class="t" x="1028.5" y="831.6" textLength="52.6" lengthAdjust="spacingAndGlyphs">16 Jun 08:00</text>
<text class="t" x="1092.5" y="831.6" textLength="52.6" lengthAdjust="spacingAndGlyphs">19 Jun 00:00</text>
<text class="t" x="1156.5" y="831.6" textLength="52.6" lengthAdjust="spacingAndGlyphs">19 Jun 16:00</text>
<text class="t" x="1220.5" y="831.6" textLength="52.6" lengthAdjust="spacingAndGlyphs">20 Jun 08:00</text>
<text class="t" x="1284.5" y="831.6" textLength="52.6" lengthAdjust="spacingAndGlyphs">21 Jun 00:00</text>
<text class="t" x="1348.5" y="831.6" textLength="52.6" lengthAdjust="spacingAndGlyphs">21 Jun 16:00</text>
<defs><pattern id="chk" width="2" height="2" patternUnits="userSpaceOnUse"><rect width="2" height="2" fill="#f0f0f0"/><rect width="1" height="1" fill="#fff"/><rect x="1" y="1" width="1" height="1" fill="#fff"/></pattern><linearGradient id="gGreen" x1="0" y1="0" x2="1" y2="1"><stop offset="0" stop-color="#8dffa0"/><stop offset="0.5" stop-color="#10f030"/><stop offset="1" stop-color="#0ab818"/></linearGradient><linearGradient id="gGold" x1="0" y1="0" x2="1" y2="1"><stop offset="0" stop-color="#f6d860"/><stop offset="0.45" stop-color="#f0c020"/><stop offset="1" stop-color="#d49a12"/></linearGradient><linearGradient id="gRing" x1="0" y1="0" x2="1" y2="1"><stop offset="0" stop-color="#3aa8f6"/><stop offset="0.5" stop-color="#0f6fd6"/><stop offset="1" stop-color="#0a4ea6"/></linearGradient><linearGradient id="gCloud" x1="0" y1="0" x2="0" y2="1"><stop offset="0" stop-color="#ffffff"/><stop offset="1" stop-color="#bcc8de"/></linearGradient><linearGradient id="gYel" x1="0" y1="0" x2="0.6" y2="1"><stop offset="0" stop-color="#ffd228"/><stop offset="1" stop-color="#fff47a"/></linearGradient><linearGradient id="gBlue" x1="0" y1="0" x2="0" y2="1"><stop offset="0" stop-color="#1f78e6"/><stop offset="1" stop-color="#8cc8ff"/></linearGradient><radialGradient id="gRed" cx="0.4" cy="0.3" r="0.8"><stop offset="0" stop-color="#f0573a"/><stop offset="1" stop-color="#cc1a10"/></radialGradient><radialGradient id="gLens" cx="0.4" cy="0.35" r="0.8"><stop offset="0" stop-color="#f2fbff"/><stop offset="1" stop-color="#a9d6f5"/></radialGradient></defs>
<g shape-rendering="crispEdges">
<rect x="5" y="0" width="1" height="21" fill="#a0a0a0"/>
<rect x="241" y="0" width="1" height="21" fill="#a0a0a0"/><rect x="242" y="0" width="1" height="21" fill="#ffffff"/>
<rect x="245" y="1" width="3" height="1" fill="#a6a6a6"/><rect x="245" y="3" width="3" height="1" fill="#a6a6a6"/><rect x="245" y="5" width="3" height="1" fill="#a6a6a6"/><rect x="245" y="7" width="3" height="1" fill="#a6a6a6"/><rect x="245" y="9" width="3" height="1" fill="#a6a6a6"/><rect x="245" y="11" width="3" height="1" fill="#a6a6a6"/><rect x="245" y="13" width="3" height="1" fill="#a6a6a6"/><rect x="245" y="15" width="3" height="1" fill="#a6a6a6"/><rect x="245" y="17" width="3" height="1" fill="#a6a6a6"/><rect x="245" y="19" width="3" height="1" fill="#a6a6a6"/>
<rect x="279" y="0" width="1" height="21" fill="#a0a0a0"/>
<rect x="280" y="0" width="24" height="21" fill="url(#chk)"/><rect x="279" y="21" width="26" height="1" fill="#fff"/><rect x="304" y="0" width="1" height="22" fill="#fff"/>
<rect x="336" y="0" width="1" height="21" fill="#a0a0a0"/>
<rect x="426" y="0" width="1" height="21" fill="#a0a0a0"/>
<rect x="431" y="0" width="1" height="21" fill="#a0a0a0"/>
<rect x="432" y="0" width="24" height="21" fill="url(#chk)"/><rect x="431" y="21" width="26" height="1" fill="#fff"/><rect x="456" y="0" width="1" height="22" fill="#fff"/>
<rect x="459" y="0" width="1" height="21" fill="#a0a0a0"/>
<rect x="460" y="0" width="24" height="21" fill="url(#chk)"/><rect x="459" y="21" width="26" height="1" fill="#fff"/><rect x="484" y="0" width="1" height="22" fill="#fff"/>
<rect x="488" y="0" width="1" height="21" fill="#a0a0a0"/>
<rect x="609" y="0" width="1" height="21" fill="#a0a0a0"/><rect x="610" y="0" width="1" height="21" fill="#ffffff"/>
<rect x="613" y="1" width="3" height="1" fill="#a6a6a6"/><rect x="613" y="3" width="3" height="1" fill="#a6a6a6"/><rect x="613" y="5" width="3" height="1" fill="#a6a6a6"/><rect x="613" y="7" width="3" height="1" fill="#a6a6a6"/><rect x="613" y="9" width="3" height="1" fill="#a6a6a6"/><rect x="613" y="11" width="3" height="1" fill="#a6a6a6"/><rect x="613" y="13" width="3" height="1" fill="#a6a6a6"/><rect x="613" y="15" width="3" height="1" fill="#a6a6a6"/><rect x="613" y="17" width="3" height="1" fill="#a6a6a6"/><rect x="613" y="19" width="3" height="1" fill="#a6a6a6"/>
<rect x="619" y="0" width="1" height="21" fill="#a0a0a0"/>
<rect x="620" y="0" width="24" height="21" fill="url(#chk)"/><rect x="619" y="21" width="26" height="1" fill="#fff"/><rect x="644" y="0" width="1" height="22" fill="#fff"/>
<rect x="676" y="0" width="1" height="21" fill="#a0a0a0"/>
<rect x="915" y="0" width="1" height="21" fill="#a0a0a0"/><rect x="916" y="0" width="1" height="21" fill="#ffffff"/>
<rect x="919" y="1" width="3" height="1" fill="#a6a6a6"/><rect x="919" y="3" width="3" height="1" fill="#a6a6a6"/><rect x="919" y="5" width="3" height="1" fill="#a6a6a6"/><rect x="919" y="7" width="3" height="1" fill="#a6a6a6"/><rect x="919" y="9" width="3" height="1" fill="#a6a6a6"/><rect x="919" y="11" width="3" height="1" fill="#a6a6a6"/><rect x="919" y="13" width="3" height="1" fill="#a6a6a6"/><rect x="919" y="15" width="3" height="1" fill="#a6a6a6"/><rect x="919" y="17" width="3" height="1" fill="#a6a6a6"/><rect x="919" y="19" width="3" height="1" fill="#a6a6a6"/>
<rect x="1065" y="0" width="1" height="21" fill="#a0a0a0"/>
<rect x="1066" y="0" width="24" height="21" fill="url(#chk)"/><rect x="1065" y="21" width="26" height="1" fill="#fff"/><rect x="1090" y="0" width="1" height="22" fill="#fff"/>
<rect x="1176" y="0" width="1" height="21" fill="#a0a0a0"/><rect x="1177" y="0" width="1" height="21" fill="#ffffff"/>
</g>
<path d="M16.6,3.6 h6.6 l3.4,3.4 v8.2 q0,1 -1,1 h-9 q-1,0 -1,-1 v-10.6 q0,-1 1,-1 z" fill="#ffffff" stroke="#7c7c7c" stroke-width="1"/><path d="M23.2,3.6 v2.6 q0,0.8 0.8,0.8 h2.6 z" fill="#6e6e6e" stroke="#6e6e6e" stroke-width="0.6"/><rect x="17.2" y="5.2" width="2.6" height="1.5" fill="#8a8a8a"/><g stroke="#8a8a8a" stroke-width="1"><line x1="17.2" y1="9.5" x2="23.2" y2="9.5"/><line x1="17.2" y1="11.5" x2="21.8" y2="11.5"/><line x1="17.2" y1="13.5" x2="19.2" y2="13.5"/></g><path d="M23.6,9.6 h3.4 v4 h4 v3.2 h-4 v4 h-3.4 v-4 h-4 v-3.2 h4 z" fill="url(#gGreen)" stroke="#0a8c14" stroke-width="1"/>
<text class="cj" x="33.8" y="14" textLength="36.4" lengthAdjust="spacing">新订单</text>
<path d="M87.2,4.2 L96.8,11.6 L90,17 L83,12 Q85.6,9.4 86.8,6.4 Z" fill="url(#gGold)" stroke="#a0680a" stroke-width="1.1" stroke-linejoin="round"/><polygon points="90,17 96.9,11.7 97.7,13.2 90.4,18.8" fill="#f1e2a4" stroke="#a8700c" stroke-width="0.6"/><line x1="90.4" y1="17.9" x2="97.2" y2="12.6" stroke="#a8700c" stroke-width="0.4"/><polygon points="82.1,12.8 83,12 90,17 90.4,18.8" fill="#f3cd55" stroke="#a8700c" stroke-width="0.7" stroke-linejoin="round"/>
<polygon points="112,3.2 119,3.2 123,5.8 123,12 115.8,12.6 112,12.2" fill="#0f8cf2" stroke="#0a78e0" stroke-width="0.5"/><polygon points="115.8,5.9 123,5.9 123,12 115.8,12.4" fill="#22a8ff"/><polygon points="112.2,3.4 118.9,3.4 122.6,5.7 115.8,5.7" fill="#3cb4ff"/><path d="M112.3,3.5 L115.8,5.8 L115.8,12.4 M115.8,5.8 L122.8,5.8" stroke="#d8f0ff" stroke-width="0.6" fill="none"/><polygon points="117.2,8.2 121.6,7.3 121.6,8.2 117.2,9" fill="#eaf6ff"/><path d="M112,18.5 C109.8,18.5 109.6,14.6 111.8,14.1 C111.8,12.6 113.8,12 114.9,12.9 C115.7,11 118.2,10.7 119.4,11.6 C120.8,10.9 122.2,11.8 122.5,13 C124.7,12.4 126.3,13.8 125.8,15.5 C126.6,16.9 125.6,18.5 124.2,18.5 Z" fill="url(#gCloud)" stroke="#3a5598" stroke-width="1.05"/>
<g fill="#3aa83a"><path d="M146,10.8 L146,3 A7.8,7.8 0 0 1 151.5,5.3 Z" opacity="0.18"/><path d="M146,10.8 L151.5,5.3 A7.8,7.8 0 0 1 153.8,10.8 Z" opacity="0.32"/><path d="M146,10.8 L153.8,10.8 A7.8,7.8 0 0 1 151.5,16.3 Z" opacity="0.52"/><path d="M146,10.8 L151.5,16.3 A7.8,7.8 0 0 1 146,18.6 Z" opacity="0.8"/></g><g fill="none"><circle cx="146" cy="10.8" r="7.5" stroke="#4a78d8" stroke-opacity="0.55" stroke-width="1.1"/><circle cx="146" cy="10.8" r="4.8" stroke="#4a78d8" stroke-opacity="0.6" stroke-width="1.1"/></g><path d="M153.5,10.8 A7.5,7.5 0 0 1 146,18.3" fill="none" stroke="#2f8a4a" stroke-opacity="0.6" stroke-width="1.1"/><circle cx="146" cy="10.6" r="1.9" fill="#1d50cf"/><line x1="146.5" y1="11" x2="146.5" y2="18.6" stroke="#18a522" stroke-width="1.2"/>
<polygon points="165.2,10.2 181,9.4 176.4,17 174.8,18.8 172.4,18.4" fill="url(#gYel)" stroke="#d4a010" stroke-width="0.7" stroke-linejoin="round"/><ellipse cx="173.1" cy="7.6" rx="8" ry="2.7" transform="rotate(-5 173.1 7.6)" fill="#5bb2e4" stroke="#2a86b6" stroke-width="0.8"/><path d="M169.2,7.4 Q169.6,3.1 173.2,3.1 Q176.6,3.1 177.2,6.6 Q173.4,8.8 169.2,7.4 Z" fill="#7cc4ee" stroke="#2a86b6" stroke-width="0.7"/><circle cx="177.5" cy="14.7" r="4.2" fill="url(#gRed)" stroke="#b81408" stroke-width="0.5"/><rect x="176.1" y="13" width="3" height="3.3" fill="#fff"/>
<text class="cj" x="186.4" y="14.2" textLength="47.6" lengthAdjust="spacing">自动交易</text>
<g stroke="#555555" stroke-width="1.1" fill="none"><line x1="259.5" y1="5.5" x2="259.5" y2="18.8"/><line x1="257" y1="16.5" x2="270.5" y2="16.5"/></g><polygon points="257.5,7.6 259.5,4.6 261.5,7.6" fill="#555555"/><polygon points="268.6,14.5 271.4,16.5 268.6,18.5" fill="#555555"/>
<g stroke="#1a8c1a" stroke-width="1.4" fill="none"><line x1="265.6" y1="6.6" x2="265.6" y2="14.4"/><line x1="265.6" y1="7.2" x2="268.4" y2="7.2"/><line x1="263" y1="13.6" x2="265.6" y2="13.6"/></g>
<g stroke="#555555" stroke-width="1.1" fill="none"><line x1="287.5" y1="5.5" x2="287.5" y2="18.8"/><line x1="285" y1="16.5" x2="298.5" y2="16.5"/></g><polygon points="285.5,7.6 287.5,4.6 289.5,7.6" fill="#555555"/><polygon points="296.6,14.5 299.4,16.5 296.6,18.5" fill="#555555"/>
<line x1="293.5" y1="3" x2="293.5" y2="15" stroke="#118811" stroke-width="1.2"/><rect x="291.2" y="5.4" width="4.6" height="7.6" fill="#2fe02f" stroke="#118811" stroke-width="0.9"/>
<g stroke="#555555" stroke-width="1.1" fill="none"><line x1="315.5" y1="5.5" x2="315.5" y2="18.8"/><line x1="313" y1="16.5" x2="326.5" y2="16.5"/></g><polygon points="313.5,7.6 315.5,4.6 317.5,7.6" fill="#555555"/><polygon points="324.6,14.5 327.4,16.5 324.6,18.5" fill="#555555"/>
<path d="M314.2,14 Q317,7.2 320.4,8.2 T326,12.4" stroke="#1a8c1a" stroke-width="1.3" fill="none"/>
<line x1="355" y1="13" x2="359.7" y2="17.3" stroke="#b98212" stroke-width="3.2" stroke-linecap="butt"/><line x1="355.2" y1="13.2" x2="359.6" y2="17.2" stroke="#f6e060" stroke-width="1.7"/><circle cx="351" cy="9.2" r="5.5" fill="url(#gLens)" stroke="#2f7fd4" stroke-width="1.2"/><rect x="347.8" y="8.3" width="6.4" height="1.9" fill="#4a86b8"/><rect x="350.05" y="6" width="1.9" height="6.4" fill="#4a86b8"/>
<line x1="383" y1="13" x2="387.7" y2="17.3" stroke="#b98212" stroke-width="3.2" stroke-linecap="butt"/><line x1="383.2" y1="13.2" x2="387.6" y2="17.2" stroke="#f6e060" stroke-width="1.7"/><circle cx="379" cy="9.2" r="5.5" fill="url(#gLens)" stroke="#2f7fd4" stroke-width="1.2"/><rect x="375.8" y="8.3" width="6.4" height="1.9" fill="#4a86b8"/>
<rect x="401" y="3" width="8" height="8" fill="#4aa82e"/><rect x="401" y="3" width="8" height="2.4" fill="#3a9a20"/><rect x="402" y="3.8" width="1" height="1" fill="#fff"/><rect x="402.3" y="6.4" width="5.4" height="3.6" fill="#f4f8ff"/><rect x="403.3" y="7.2" width="3.4" height="0.9" fill="#4aa82e" opacity="0.6"/>
<rect x="409" y="3" width="8" height="8" fill="#2e62d6"/><rect x="409" y="3" width="8" height="2.4" fill="#1e48b8"/><rect x="410" y="3.8" width="1" height="1" fill="#fff"/><rect x="410.3" y="6.4" width="5.4" height="3.6" fill="#f4f8ff"/><rect x="411.3" y="7.2" width="3.4" height="0.9" fill="#2e62d6" opacity="0.6"/>
<rect x="401" y="11" width="8" height="8" fill="#2e62d6"/><rect x="401" y="11" width="8" height="2.4" fill="#1e48b8"/><rect x="402" y="11.8" width="1" height="1" fill="#fff"/><rect x="402.3" y="14.4" width="5.4" height="3.6" fill="#f4f8ff"/><rect x="403.3" y="15.2" width="3.4" height="0.9" fill="#2e62d6" opacity="0.6"/>
<rect x="409" y="11" width="8" height="8" fill="#4aa82e"/><rect x="409" y="11" width="8" height="2.4" fill="#3a9a20"/><rect x="410" y="11.8" width="1" height="1" fill="#fff"/><rect x="410.3" y="14.4" width="5.4" height="3.6" fill="#f4f8ff"/><rect x="411.3" y="15.2" width="3.4" height="0.9" fill="#4aa82e" opacity="0.6"/>
<g stroke="#555555" stroke-width="1.1" fill="none"><line x1="439.5" y1="5.5" x2="439.5" y2="18.8"/><line x1="437" y1="16.5" x2="450.5" y2="16.5"/></g><polygon points="437.5,7.6 439.5,4.6 441.5,7.6" fill="#555555"/><polygon points="448.6,14.5 451.4,16.5 448.6,18.5" fill="#555555"/>
<polygon points="444.2,7.3 444.2,13.7 447.5,10.5" fill="#4ae04a" stroke="#118811" stroke-width="0.9"/>
<g stroke="#555555" stroke-width="1.1" fill="none"><line x1="467.5" y1="5.5" x2="467.5" y2="18.8"/><line x1="465" y1="16.5" x2="478.5" y2="16.5"/></g><polygon points="465.5,7.6 467.5,4.6 469.5,7.6" fill="#555555"/><polygon points="476.6,14.5 479.4,16.5 476.6,18.5" fill="#555555"/>
<line x1="473.5" y1="5" x2="473.5" y2="14.6" stroke="#1c6fa6" stroke-width="1.3"/><polygon points="474.2,10.5 477.2,8 476.6,10 478.9,10 478.9,11 476.6,11 477.2,13" fill="#e0480c"/>
<path d="M499.6,3.6 h6.6 l3.4,3.4 v8.2 q0,1 -1,1 h-9 q-1,0 -1,-1 v-10.6 q0,-1 1,-1 z" fill="#ffffff" stroke="#7c7c7c" stroke-width="1"/><path d="M506.2,3.6 v2.6 q0,0.8 0.8,0.8 h2.6 z" fill="#6e6e6e" stroke="#6e6e6e" stroke-width="0.6"/><text x="499.8" y="13.2" style="font-family:'Liberation Serif',serif;font-style:italic;font-size:10.5px;fill:#6c5c3c">f</text><path d="M506.6,9.6 h3.4 v4 h4 v3.2 h-4 v4 h-3.4 v-4 h-4 v-3.2 h4 z" fill="url(#gGreen)" stroke="#0a8c14" stroke-width="1"/>
<g shape-rendering="crispEdges" fill="#000"><rect x="520" y="10" width="5" height="1"/><rect x="521" y="11" width="3" height="1"/><rect x="522" y="12" width="1" height="1"/></g>
<circle cx="544" cy="11" r="7" fill="#f4f8fd" stroke="url(#gRing)" stroke-width="2.2"/><g stroke="#222" stroke-width="1.2" stroke-linecap="round"><line x1="543.6" y1="7.6" x2="544" y2="11"/><line x1="544" y1="11" x2="546.6" y2="10.6"/></g><g fill="#8c8c8c"><circle cx="544.00" cy="6.40" r="0.42"/><circle cx="546.30" cy="7.02" r="0.42"/><circle cx="547.98" cy="8.70" r="0.42"/><circle cx="548.60" cy="11.00" r="0.42"/><circle cx="547.98" cy="13.30" r="0.42"/><circle cx="546.30" cy="14.98" r="0.42"/><circle cx="544.00" cy="15.60" r="0.42"/><circle cx="541.70" cy="14.98" r="0.42"/><circle cx="540.02" cy="13.30" r="0.42"/><circle cx="539.40" cy="11.00" r="0.42"/><circle cx="540.02" cy="8.70" r="0.42"/><circle cx="541.70" cy="7.02" r="0.42"/></g><rect x="543" y="13.2" width="2" height="0.8" fill="#5aa0f0"/>
<g shape-rendering="crispEdges" fill="#000"><rect x="559" y="10" width="5" height="1"/><rect x="560" y="11" width="3" height="1"/><rect x="561" y="12" width="1" height="1"/></g>
<rect x="575.5" y="4.5" width="15" height="13" fill="#ffffff" stroke="#3a78c4" stroke-width="1"/><rect x="575" y="4" width="16" height="2.6" fill="#4a8cdc"/><rect x="576" y="5" width="6" height="0.8" fill="#b8dcff"/><rect x="575.5" y="12" width="15" height="1" fill="#3a78c4"/><polyline points="577.4,10.4 579.4,10.4 581,9.2 582.6,8.6 584.2,9.6 586.2,9.6 588.2,8.6 589,8.6" fill="none" stroke="#8c1c00" stroke-width="1.3"/><polyline points="578,15.6 579.6,15.6 581,14.6 582.6,15.6 584,15.4 585.6,13.6 586.8,13.4 588.8,15.6" fill="none" stroke="#0c8c1c" stroke-width="1.3"/>
<g shape-rendering="crispEdges" fill="#000"><rect x="598" y="10" width="5" height="1"/><rect x="599" y="11" width="3" height="1"/><rect x="600" y="12" width="1" height="1"/></g>
<polygon points="627,3.8 627,15 629.6,12.8 631.8,18 633.8,17.2 631.6,12.2 635.2,12" fill="#505050"/>
<g stroke="#555555" stroke-width="1.3"><line x1="652" y1="11.5" x2="658" y2="11.5"/><line x1="661" y1="11.5" x2="667" y2="11.5"/><line x1="659.5" y1="4" x2="659.5" y2="10"/><line x1="659.5" y1="13" x2="659.5" y2="19"/></g><rect x="659" y="11" width="1" height="1" fill="#555555"/>
<g stroke="#555555" stroke-width="1.3"><line x1="693.5" y1="5" x2="693.5" y2="18"/><line x1="716" y1="11.5" x2="728" y2="11.5"/><line x1="743.8" y1="18" x2="756" y2="5.8"/></g>
<g stroke="#555555" stroke-width="1.1" fill="none"><line x1="769.8" y1="13" x2="779.6" y2="4.6"/><line x1="771.2" y1="15.6" x2="782.6" y2="6"/><line x1="773.6" y1="17.6" x2="783.8" y2="9.2"/><line x1="772.4" y1="10.6" x2="773.4" y2="17.2"/><line x1="775.6" y1="8" x2="776.8" y2="15"/><line x1="778.8" y1="5.4" x2="780.2" y2="12.2"/><line x1="781.4" y1="3.2" x2="782.6" y2="9.8"/></g>
<text x="780.6" y="20" style="font-size:7px;font-weight:bold;fill:#444">E</text>
<g stroke="#555555" stroke-width="1" stroke-dasharray="1 1"><line x1="799" y1="4.5" x2="812" y2="4.5"/><line x1="799" y1="7.5" x2="812" y2="7.5"/><line x1="799" y1="11.5" x2="812" y2="11.5"/><line x1="799" y1="15.5" x2="808" y2="15.5"/></g>
<text x="808.8" y="20" style="font-size:7px;font-weight:bold;fill:#444">F</text>
<text x="829.4" y="16" style="font-size:12.4px;fill:#555;stroke:#555;stroke-width:0.55px">A</text>
<rect x="856.5" y="5.5" width="11" height="12" fill="none" stroke="#555555" stroke-width="1" stroke-dasharray="1 1" shape-rendering="crispEdges"/><rect x="855.4" y="4.4" width="2" height="1.4" fill="#555555"/><text x="858.2" y="15.6" style="font-size:10.6px;font-weight:bold;fill:#555">T</text>
<polygon points="883,9.4 886.6,5 890.2,9.4 886.6,10.2" fill="#555555"/><polygon points="890,13.6 893.7,12.8 897.4,13.6 893.7,18" fill="#555555"/><polyline points="885.4,12.6 887.8,14.8 892.4,9.2" fill="none" stroke="#555555" stroke-width="1.4"/>
<g shape-rendering="crispEdges" fill="#000"><rect x="904" y="10" width="5" height="1"/><rect x="905" y="11" width="3" height="1"/><rect x="906" y="12" width="1" height="1"/></g>
<text class="tf" x="930.2" y="14.8" textLength="13.2" lengthAdjust="spacingAndGlyphs">M1</text>
<text class="tf" x="958.2" y="14.8" textLength="13.2" lengthAdjust="spacingAndGlyphs">M5</text>
<text class="tf" x="984.4" y="14.8" textLength="18.2" lengthAdjust="spacingAndGlyphs">M15</text>
<text class="tf" x="1012.2" y="14.8" textLength="18.4" lengthAdjust="spacingAndGlyphs">M30</text>
<text class="tf" x="1042.8" y="14.8" textLength="12.4" lengthAdjust="spacingAndGlyphs">H1</text>
<text class="tf" x="1070.2" y="14.8" textLength="12.6" lengthAdjust="spacingAndGlyphs">H4</text>
<text class="tf" x="1099" y="14.8" textLength="12.6" lengthAdjust="spacingAndGlyphs">D1</text>
<text class="tf" x="1127" y="14.8" textLength="14.6" lengthAdjust="spacingAndGlyphs">W1</text>
<text class="tf" x="1153.4" y="14.8" textLength="15.2" lengthAdjust="spacingAndGlyphs">MN</text>
<line x1="1643.6" y1="11.6" x2="1639.4" y2="15.6" stroke="#2258cc" stroke-width="2.6" stroke-linecap="round"/><circle cx="1646.4" cy="8.4" r="4" fill="#f6f9ff" stroke="#2a5fd4" stroke-width="1.3"/>
<path d="M1663,12.6 a6.4,4.6 0 0 1 12.8,0 a6.4,4.6 0 0 1 -7,4.6 l-2.4,2.2 l0.2,-2.8 a6,4.4 0 0 1 -3.6,-4 z" fill="#e9ebf2" stroke="#b9bcc6" stroke-width="0.8"/>
<circle cx="1677.6" cy="8" r="8.3" fill="url(#gRed)"/><text x="1677.4" y="13" text-anchor="middle" style="font-size:13px;font-weight:bold;fill:#fff">1</text>
</svg></body></html>
